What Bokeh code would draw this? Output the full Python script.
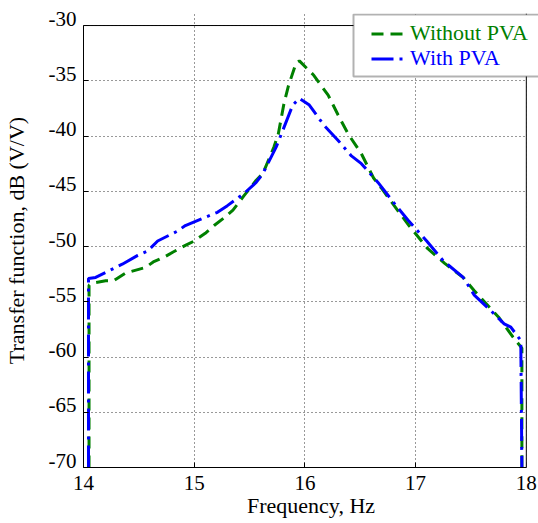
from bokeh.plotting import figure
from bokeh.models import (Range1d, LinearAxis, FixedTicker, Legend, LegendItem,
                          Span, BoxAnnotation)
from bokeh.embed import file_html
from bokeh.resources import INLINE

# Data
freq_without = [14.05, 14.05, 14.09, 14.20, 14.27, 14.38, 14.45, 14.56, 14.63, 14.74, 14.81, 14.92,
                15.00, 15.10, 15.18, 15.27, 15.35, 15.45, 15.56, 15.62, 15.72, 15.76, 15.81, 15.85,
                15.92, 15.95, 16.08, 16.13, 16.21, 16.30, 16.39, 16.51, 16.62, 16.69, 16.85, 16.94,
                17.11, 17.26, 17.43, 17.53, 17.75, 17.88, 17.96, 17.96]
tf_without = [-70.0, -53.5, -53.3, -53.1, -53.1, -52.4, -52.2, -51.9, -51.4, -50.9, -50.5, -49.9,
              -49.5, -48.8, -48.1, -47.4, -46.7, -45.4, -44.0, -43.4, -41.0, -39.8, -37.1, -35.5,
              -33.4, -33.2, -34.5, -35.2, -36.3, -38.1, -39.8, -41.6, -43.8, -44.7, -46.9, -48.1,
              -50.2, -51.5, -52.8, -54.0, -56.4, -58.2, -59.2, -70.0]

freq_with = [14.045, 14.045, 14.11, 14.23, 14.35, 14.49, 14.58, 14.67, 14.85, 14.92, 15.21, 15.30,
             15.45, 15.56, 15.62, 15.74, 15.80, 15.89, 15.95, 16.04, 16.17, 16.30, 16.42, 16.51,
             16.66, 16.80, 16.93, 17.10, 17.25, 17.43, 17.53, 17.71, 17.80, 17.86, 17.95, 17.96]
tf_with = [-70.0, -52.9, -52.8, -52.2, -51.6, -50.8, -50.4, -49.5, -48.6, -48.1, -46.9, -46.3,
           -45.2, -44.2, -43.4, -41.0, -39.5, -37.2, -36.6, -37.2, -39.0, -40.4, -41.8, -42.5,
           -44.2, -46.0, -47.6, -49.5, -51.3, -52.8, -54.4, -56.1, -57.0, -57.3, -58.5, -70.0]

x_ticks = [14, 15, 16, 17, 18]
y_ticks = [-70, -65, -60, -55, -50, -45, -40, -35, -30]
y_tick_labels = ["-70", "-65", "-60", "-55", "-50", "-45", "-40", "-35", "-30"]
series_names = ["Without PVA", "With PVA"]
series_colors = ["#008000", "#0000ff"]

FONT = "Liberation Serif"
X0, X1 = 14, 18
Y0, Y1 = -70, -30
X_END = 18.11     # frame extends a little past the box so the legend can overhang
Y_END = -28.91
LBL_SHIFT = 0.63  # y tick labels sit slightly above their ticks

p = figure(width=538, height=523, output_backend="svg", toolbar_location=None,
           x_range=Range1d(X0, X_END), y_range=Range1d(Y0, Y_END),
           min_border_left=83, min_border_top=13, min_border_right=0, min_border_bottom=56)
p.outline_line_color = None
p.background_fill_color = "white"
p.border_fill_color = "white"
p.extra_y_ranges = {"lbl": Range1d(Y0 - LBL_SHIFT, Y_END - LBL_SHIFT)}

# x axis
xa = p.xaxis[0]
xa.ticker = FixedTicker(ticks=x_ticks)
xa.bounds = (X0, X1)
xa.axis_label = "Frequency, Hz"
xa.major_label_text_font = FONT
xa.major_label_text_font_size = "21px"
xa.major_label_text_color = "black"
xa.major_label_standoff = 8
xa.axis_label_text_font = FONT
xa.axis_label_text_font_size = "22px"
xa.axis_label_text_font_style = "normal"
xa.axis_label_text_color = "black"
xa.axis_label_standoff = 0
xa.axis_line_color = "black"
xa.major_tick_line_color = "black"
xa.major_tick_in = 5
xa.major_tick_out = 0
xa.minor_tick_line_color = None

# y axis: line + inward ticks only
ya = p.yaxis[0]
ya.ticker = FixedTicker(ticks=y_ticks)
ya.bounds = (Y0, Y1)
ya.major_label_overrides = {t: "" for t in y_ticks}
ya.major_label_standoff = 0
ya.axis_line_color = "black"
ya.major_tick_line_color = "black"
ya.major_tick_in = 5
ya.major_tick_out = 0
ya.minor_tick_line_color = None

# y axis carrying the labels (placed slightly higher, as in the reference)
yl = LinearAxis(y_range_name="lbl", ticker=FixedTicker(ticks=y_ticks),
                axis_line_color=None, major_tick_line_color=None, minor_tick_line_color=None,
                major_label_standoff=1, axis_label="Transfer function, dB (V/V)")
yl.major_label_overrides = dict(zip(y_ticks, y_tick_labels))
yl.major_label_text_font = FONT
yl.major_label_text_font_size = "21px"
yl.major_label_text_color = "black"
yl.axis_label_text_font = FONT
yl.axis_label_text_font_size = "22px"
yl.axis_label_text_font_style = "normal"
yl.axis_label_text_color = "black"
yl.axis_label_standoff = 17
p.add_layout(yl, "left")

# grid
p.grid.grid_line_color = "black"
p.grid.grid_line_alpha = 0.8
p.grid.grid_line_dash = "1 3"
p.grid.grid_line_width = 1
p.xgrid.ticker = FixedTicker(ticks=x_ticks)
p.ygrid.ticker = FixedTicker(ticks=y_ticks)

# data
r1 = p.line(freq_without, tf_without, line_color=series_colors[0], line_width=3, line_dash="12 7")
r2 = p.line(freq_with, tf_with, line_color=series_colors[1], line_width=3, line_dash="22 6 3 6")

# blank strip right of the box, then the box's top and right edges
p.add_layout(BoxAnnotation(left=X1, fill_color="white", fill_alpha=1, line_color=None))
p.add_layout(Span(location=Y1, dimension="width", line_color="black", line_width=1))
p.add_layout(Span(location=X1, dimension="height", line_color="black", line_width=1))

# legend frame (screen units, from the frame's bottom-left) and two legends with coloured labels
p.add_layout(BoxAnnotation(left=270, right=600, bottom=391, top=453,
                           left_units="screen", right_units="screen",
                           top_units="screen", bottom_units="screen",
                           fill_color="white", fill_alpha=1,
                           line_color="black", line_width=2))

for i, (rend, loc) in enumerate([(r1, (288, 421)), (r2, (288, 396))]):
    lg = Legend(items=[LegendItem(label=series_names[i], renderers=[rend])], location=loc)
    lg.label_text_font = FONT
    lg.label_text_font_size = "22px"
    lg.label_text_color = series_colors[i]
    lg.border_line_color = None
    lg.background_fill_alpha = 0
    lg.padding = 0
    lg.spacing = 0
    lg.margin = 0
    lg.glyph_width = 32
    lg.glyph_height = 25
    lg.label_height = 25
    lg.label_standoff = 7
    p.add_layout(lg, "center")

open("out.html", "w").write(file_html(p, INLINE))
